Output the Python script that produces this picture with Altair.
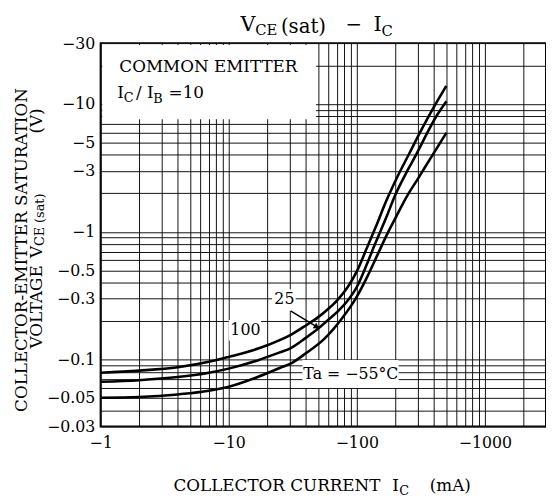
import altair as alt
import pandas as pd

# ---------------- data ----------------
ic_100 = [1, 2, 4, 7, 10, 17, 25, 30, 40, 50, 60, 70, 85, 100, 120, 140, 170, 200, 260, 320, 400, 500]
vce_100 = [0.079, 0.082, 0.087, 0.096, 0.105, 0.122, 0.142, 0.155, 0.185, 0.215, 0.25, 0.29,
           0.37, 0.49, 0.75, 1.08, 1.75, 2.5, 4.2, 6.3, 9.5, 13.9]

ic_25 = [1, 2, 4, 7, 10, 17, 25, 30, 40, 50, 60, 70, 85, 100, 120, 140, 170, 200, 250, 290, 350, 420, 500]
vce_25 = [0.067, 0.069, 0.073, 0.079, 0.085, 0.099, 0.114, 0.122, 0.148, 0.175, 0.205, 0.235,
          0.29, 0.37, 0.56, 0.82, 1.3, 1.95, 3.05, 4.0, 5.8, 8.1, 10.5]

ic_m55 = [1, 2, 4, 7, 10, 17, 25, 31, 40, 56, 76, 98, 120, 145, 170, 200, 250, 300, 350, 400, 500]
vce_m55 = [0.0503, 0.051, 0.0534, 0.057, 0.0614, 0.0735, 0.086, 0.094, 0.112, 0.146, 0.208,
           0.30, 0.44, 0.66, 0.93, 1.28, 1.95, 2.6, 3.35, 4.15, 5.96]

x_domain = [1, 3000]
y_domain = [0.03, 30]
x_labels = [1, 10, 100, 1000]
y_labels = [30, 10, 5, 3, 1, 0.5, 0.3, 0.1, 0.05, 0.03]
x_grid = [round(m * 10 ** e, 4) for e in range(0, 4) for m in range(1, 10) if m * 10 ** e <= 3000]
y_grid = [round(m * 10.0 ** e, 4) for e in range(-2, 2) for m in range(1, 10)
          if 0.03 - 1e-9 <= m * 10.0 ** e <= 30 + 1e-9]

# annotation boxes (white backgrounds) in data units
boxes = pd.DataFrame({
    "x1": [1.03, 10.0, 21.8, 37.6],
    "x2": [48.0, 17.9, 33.3, 212.0],
    "y1": [7.6, 0.141, 0.24, 0.060],
    "y2": [29.0, 0.2045, 0.355, 0.0993],
})
labels = pd.DataFrame({
    "x": [13.5, 27.2, 89.9],
    "y": [0.171, 0.2967, 0.077],
    "t": ["100", "25", "Ta = \u221255\u00b0C"],
})
arrow = pd.DataFrame({"x": [30.4], "y": [0.241], "x2": [48.8], "y2": [0.18]})

rows = []
for name, xs_, ys_ in [("100", ic_100, vce_100), ("25", ic_25, vce_25), ("-55", ic_m55, vce_m55)]:
    for a, b in zip(xs_, ys_):
        rows.append({"series": name, "ic": a, "vce": b})
curves = pd.DataFrame(rows)

FONT = "DejaVu Serif"
MINUS = "\u2212"


def lab_expr(vals):
    return "indexof([" + ",".join(str(v) for v in vals) + "], datum.value) >= 0 ? '" + MINUS + "' + datum.value : ''"


x_axis = alt.Axis(values=x_grid, labelExpr=lab_expr(x_labels), grid=True, gridColor="#111",
                  gridWidth=1, gridOpacity=1, ticks=False, domain=False, labelFont=FONT,
                  labelFontSize=16, labelColor="black", labelPadding=8, labelOverlap=False,
                  labelFlush=False, title=None)
y_axis = alt.Axis(values=y_grid, labelExpr=lab_expr(y_labels), grid=True, gridColor="#111",
                  gridWidth=1, gridOpacity=1, ticks=False, domain=False, labelFont=FONT,
                  labelFontSize=16, labelColor="black", labelPadding=6, labelOverlap=False,
                  labelFlush=False, title=None)
xs = alt.Scale(type="log", domain=x_domain)
ys = alt.Scale(type="log", domain=y_domain)

lines = alt.Chart(curves).mark_line(color="black", strokeWidth=2.6, interpolate="monotone", clip=True).encode(
    x=alt.X("ic:Q", scale=xs, axis=x_axis),
    y=alt.Y("vce:Q", scale=ys, axis=y_axis),
    detail="series:N",
)

rects = alt.Chart(boxes).mark_rect(fill="white").encode(
    x=alt.X("x1:Q", scale=xs, axis=x_axis), x2="x2:Q",
    y=alt.Y("y1:Q", scale=ys, axis=y_axis), y2="y2:Q",
)

curve_labels = alt.Chart(labels).mark_text(font=FONT, fontSize=16, color="black").encode(
    x=alt.X("x:Q", scale=xs, axis=x_axis),
    y=alt.Y("y:Q", scale=ys, axis=y_axis),
    text="t:N",
)

arrow_line = alt.Chart(arrow).mark_rule(color="black", strokeWidth=1.5).encode(
    x=alt.X("x:Q", scale=xs, axis=x_axis), x2="x2:Q",
    y=alt.Y("y:Q", scale=ys, axis=y_axis), y2="y2:Q",
)
arrow_head = alt.Chart(arrow).mark_point(shape="triangle-right", filled=True, color="black",
                                         size=45, angle=32, opacity=1).encode(
    x=alt.X("x2:Q", scale=xs, axis=x_axis),
    y=alt.Y("y2:Q", scale=ys, axis=y_axis),
)

one = pd.DataFrame({"k": [0]})


def txt(t, x, y, size, align="left", baseline="alphabetic", angle=0):
    kw = dict(text=t, font=FONT, fontSize=size, color="black", align=align, baseline=baseline)
    if angle:
        kw["angle"] = angle
    return alt.Chart(one).mark_text(**kw).encode(x=alt.value(x), y=alt.value(y))


texts = [
    # title
    txt("V", 142, -12, 21),
    txt("CE", 157, -8, 15),
    txt("(sat)", 183, -10, 20),
    txt(MINUS, 257, -18, 20, align="center", baseline="middle"),
    txt("I", 277, -12, 21),
    txt("C", 285, -7, 15),
    # box text
    txt("COMMON EMITTER", 19, 29, 17),
    txt("I", 17, 56, 17),
    txt("C", 23.5, 60, 13),
    txt("/", 36, 56, 17),
    txt("I", 47, 56, 17),
    txt("B", 53.5, 61, 13),
    txt("=10", 69, 56, 17),
    # x axis title
    txt("COLLECTOR CURRENT", 74, 455, 17),
    txt("I", 296, 455, 17),
    txt("C", 303, 459, 13),
    txt("(mA)", 334, 455, 17),
    # y axis title
    txt("COLLECTOR-EMITTER SATURATION", -80, 210, 17, align="center", baseline="middle", angle=270),
    txt("VOLTAGE", -64.5, 310, 17, baseline="middle", angle=270),
    txt("V", -64.5, 218, 17, baseline="middle", angle=270),
    txt("CE (sat)", -61, 206, 13, baseline="middle", angle=270),
    txt("(V)", -64.5, 79, 17, align="center", baseline="middle", angle=270),
]

chart = alt.layer(rects, lines, arrow_line, arrow_head, curve_labels, *texts).properties(
    width=452, height=389,
    padding={"left": 94, "top": 32, "right": 0, "bottom": 68},
    autosize=alt.AutoSizeParams(type="none"),
).configure_view(stroke="black", strokeWidth=2)

chart.save("out.html", embed_options={"renderer": "svg", "actions": False})
